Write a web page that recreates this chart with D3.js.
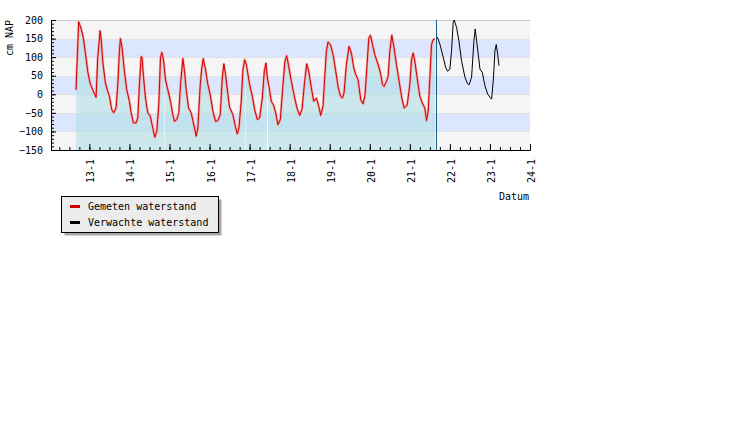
<!DOCTYPE html>
<html>
<head>
<meta charset="utf-8">
<script src="https://cdn.jsdelivr.net/npm/d3@7"></script>
<style>
	body { margin: 0; background: #fff; }
	text { font-family: 'DejaVu Sans Mono', monospace; font-size: 10px; fill: #000; }
</style>
</head>
<body>
<svg id="chart" width="734" height="434"></svg>
<script>
// gemeten waterstand (cm NAP)
let measured_times = [
	'12 16:00', '12 17:35', '12 19:00', '12 20:24', '12 22:00', '12 23:00', '13 00:25', '13 02:00', '13 04:00', '13 05:00',
	'13 06:25', '13 07:00', '13 08:00', '13 09:36', '13 11:00', '13 12:00', '13 13:23', '13 14:35', '13 16:00', '13 17:00',
	'13 18:00', '13 18:36', '13 19:37', '13 21:00', '13 22:23', '14 00:00', '14 01:00', '14 02:24', '14 04:00', '14 05:00',
	'14 06:00', '14 07:00', '14 07:35', '14 08:24', '14 09:36', '14 11:00', '14 12:25', '14 14:00', '14 15:11', '14 16:23',
	'14 17:35', '14 18:36', '14 19:23', '14 20:24', '14 21:36', '14 23:00', '15 00:36', '15 02:00', '15 03:00', '15 04:23',
	'15 05:35', '15 06:36', '15 08:00', '15 09:00', '15 10:00', '15 11:24', '15 13:00', '15 15:00', '15 16:00', '15 17:00',
	'15 18:25', '15 19:23', '15 20:13', '15 21:25', '15 23:00', '16 00:25', '16 02:00', '16 03:36', '16 05:00', '16 06:25',
	'16 07:37', '16 08:35', '16 09:36', '16 11:00', '16 12:00', '16 14:00', '16 15:25', '16 16:37', '16 17:35', '16 19:00',
	'16 20:00', '16 21:00', '16 22:00', '17 00:00', '17 01:37', '17 03:00', '17 04:37', '17 06:00', '17 07:37', '17 08:49',
	'17 09:47', '17 10:37', '17 11:35', '17 13:00', '17 14:24', '17 15:36', '17 17:00', '17 18:25', '17 20:00', '17 21:11',
	'17 22:12', '17 23:13', '18 01:00', '18 03:00', '18 04:23', '18 06:00', '18 07:23', '18 09:00', '18 10:12', '18 11:24',
	'18 12:00', '18 13:00', '18 14:24', '18 16:00', '18 17:24', '18 18:36', '18 20:00', '18 21:00', '18 22:00', '18 23:00',
	'19 00:25', '19 02:00', '19 03:36', '19 05:00', '19 06:25', '19 07:37', '19 08:35', '19 10:00', '19 11:35', '19 13:00',
	'19 14:24', '19 15:36', '19 17:00', '19 18:36', '19 20:00', '19 21:11', '19 22:23', '19 23:24', '20 00:25', '20 01:37',
	'20 03:00', '20 05:00', '20 06:25', '20 07:37', '20 08:35', '20 10:00', '20 11:00', '20 12:00', '20 13:12', '20 14:24',
	'20 16:00', '20 17:35', '20 19:12', '20 20:35', '20 22:23', '21 00:00', '21 01:00', '21 02:00', '21 03:00', '21 04:23',
	'21 06:00', '21 07:23', '21 09:00', '21 10:00', '21 11:00', '21 12:00', '21 13:00', '21 14:00', '21 15:00'
];
let measured_levels = [
	12, 195, 178, 151, 98, 62, 30, 12, -8, 98,
	171, 151, 89, 30, 8, -5, -41, -50, -37, 26,
	116, 150, 125, 62, 12, -19, -50, -77, -77, -64,
	26, 102, 98, 48, -10, -50, -58, -91, -116, -100,
	-28, 98, 113, 93, 39, 12, -19, -55, -73, -68,
	-50, 26, 96, 62, 12, -37, -50, -91, -113, -91,
	26, 71, 96, 71, 26, -1, -46, -73, -71, -55,
	44, 82, 53, -1, -35, -55, -86, -107, -91, -19,
	66, 93, 81, 26, -5, -41, -68, -64, -10, 62,
	84, 44, 21, -19, -30, -50, -82, -68, 26, 89,
	104, 81, 35, -10, -37, -57, -41, 35, 82, 62,
	44, 17, -19, -10, -32, -57, -32, 44, 116, 141,
	134, 107, 62, 21, -5, -10, 4, 80, 129, 111,
	71, 53, 39, -15, -26, -1, 80, 151, 159, 134,
	107, 80, 57, 26, 21, 35, 48, 116, 159, 129,
	80, 35, -10, -37, -30, 26, 93, 111, 89, 44,
	-5, -23, -37, -71, -46, 44, 134, 147, 149
];

// verwachte waterstand
let forecast_times = [
	'21 16:00', '21 16:37', '21 18:00', '21 20:00', '21 21:25', '21 22:37', '22 00:00', '22 01:00', '22 02:00', '22 02:35',
	'22 04:00', '22 05:24', '22 07:00', '22 09:00', '22 10:37', '22 11:35', '22 13:00', '22 14:24', '22 15:11', '22 16:00',
	'22 17:00', '22 18:00', '22 19:23', '22 21:00', '22 22:37', '23 00:00', '23 01:00', '23 02:00', '23 03:00', '23 03:47',
	'23 04:37', '23 05:24'
];
let forecast_levels = [
	149, 153, 135, 100, 73, 62, 68, 117, 194, 200,
	180, 144, 90, 46, 28, 26, 46, 144, 176, 144,
	108, 68, 59, 23, 1, -8, -13, 37, 117, 134,
	108, 77
];

let now_time = '21 15:36';
let gap_times = ['14 21:00', '16 21:00', '17 10:12'];
let x_extent = ['12 01:00', '24 00:00'];
let level_ticks = [-150, -100, -50, 0, 50, 100, 150, 200];
let day_ticks = ['13 00:00', '14 00:00', '15 00:00', '16 00:00', '17 00:00', '18 00:00',
	'19 00:00', '20 00:00', '21 00:00', '22 00:00', '23 00:00', '24 00:00'];
let day_labels = ['13-1', '14-1', '15-1', '16-1', '17-1', '18-1', '19-1', '20-1', '21-1', '22-1', '23-1', '24-1'];
let legend_labels = ['Gemeten waterstand', 'Verwachte waterstand'];
let legend_colors = ['#d00000', '#000000'];

let parse = d3.timeParse('%d %H:%M');
let plot = {left: 51, right: 530, top: 20, bottom: 150};

let x = d3.scaleTime()
	.domain(x_extent.map(parse))
	.range([plot.left, plot.right]);
let y = d3.scaleLinear()
	.domain([level_ticks[0], level_ticks[level_ticks.length - 1]])
	.range([plot.bottom, plot.top]);

let measured = measured_times.map((t, i) => ({t: parse(t), v: measured_levels[i]}));
let forecast = forecast_times.map((t, i) => ({t: parse(t), v: forecast_levels[i]}));

let svg = d3.select('#chart');

// alternating bands
let bands = svg.append('g').attr('class', 'bands');
for (let i = 0; i < level_ticks.length - 1; i++) {
	bands.append('rect')
		.attr('x', plot.left)
		.attr('y', y(level_ticks[i + 1]))
		.attr('width', plot.right - plot.left)
		.attr('height', y(level_ticks[i]) - y(level_ticks[i + 1]))
		.attr('fill', i % 2 == 0 ? '#f5f5f5' : '#dde6ff');
}
svg.append('g')
	.selectAll('line')
	.data(level_ticks)
	.enter()
	.append('line')
	.attr('x1', plot.left)
	.attr('x2', plot.right)
	.attr('y1', d => Math.round(y(d)) + 0.5)
	.attr('y2', d => Math.round(y(d)) + 0.5)
	.style('stroke', d => d == level_ticks[level_ticks.length - 1] ? '#c8c8c8' : '#e2e2e2');

// area under the measured levels
let area = d3.area()
	.x(d => x(d.t))
	.y0(y(level_ticks[0]))
	.y1(d => y(d.v));
svg.append('path')
	.attr('d', area(measured))
	.style('fill', 'powderblue')
	.style('fill-opacity', 0.6);

let bisect = d3.bisector(d => d.t).left;
function level_at(t) {
	let i = bisect(measured, t);
	let a = measured[i - 1], b = measured[i];
	return a.v + (b.v - a.v) * (t - a.t) / (b.t - a.t);
}
svg.append('g')
	.selectAll('line')
	.data(gap_times.map(parse))
	.enter()
	.append('line')
	.attr('x1', d => Math.round(x(d)) + 0.5)
	.attr('x2', d => Math.round(x(d)) + 0.5)
	.attr('y1', y(level_ticks[0]))
	.attr('y2', d => y(level_at(d)))
	.style('stroke', '#fff')
	.style('stroke-opacity', (d, i) => i == 2 ? 0.9 : 0.45);

let line = d3.line()
	.x(d => x(d.t))
	.y(d => y(d.v));

svg.append('path')
	.attr('d', line(measured))
	.style('fill', 'none')
	.style('stroke', '#f3a0a0')
	.style('stroke-width', 2.4)
	.style('stroke-linejoin', 'round');
svg.append('path')
	.attr('d', line(measured))
	.style('fill', 'none')
	.style('stroke', legend_colors[0])
	.style('stroke-width', 1);
svg.append('path')
	.attr('d', line(forecast))
	.style('fill', 'none')
	.style('stroke', legend_colors[1])
	.style('stroke-width', 1);

// now line
svg.append('line')
	.attr('x1', Math.round(x(parse(now_time))) + 0.5)
	.attr('x2', Math.round(x(parse(now_time))) + 0.5)
	.attr('y1', plot.top)
	.attr('y2', plot.bottom)
	.style('stroke', '#1d5d87');

// y axis
let minor_levels = d3.range(level_ticks[0], level_ticks[level_ticks.length - 1] + 1, 10);
svg.append('g')
	.attr('transform', `translate(${plot.left}, 0)`)
	.call(d3.axisLeft(y).tickValues(minor_levels).tickSize(-3).tickSizeOuter(0).tickFormat(''))
	.call(g => g.selectAll('line').style('stroke', '#000'));
let y_axis = svg.append('g')
	.attr('transform', `translate(${plot.left}, 0)`)
	.call(d3.axisLeft(y).tickValues(level_ticks).tickSize(-5).tickSizeOuter(0).tickPadding(8));
y_axis.selectAll('text').style('font-family', null).style('font-size', null);
y_axis.attr('font-family', null).attr('font-size', null);

// x axis
let minor_times = d3.timeHour.every(6).range(x.domain()[0], d3.timeHour.offset(x.domain()[1], 1));
svg.append('g')
	.attr('transform', `translate(0, ${plot.bottom})`)
	.call(d3.axisBottom(x).tickValues(minor_times).tickSize(-3).tickSizeOuter(0).tickFormat(''));
let x_axis = svg.append('g')
	.attr('transform', `translate(0, ${plot.bottom})`)
	.call(d3.axisBottom(x).tickValues(day_ticks.map(parse)).tickSize(-6).tickSizeOuter(0)
		.tickFormat((d, i) => day_labels[i]));
x_axis.attr('font-family', null).attr('font-size', null);
x_axis.selectAll('text')
	.attr('transform', 'rotate(-90)')
	.attr('text-anchor', 'end')
	.attr('x', -9)
	.attr('y', 1)
	.attr('dy', '0.35em');

svg.append('text')
	.attr('transform', 'translate(13, 38) rotate(-90)')
	.attr('text-anchor', 'middle')
	.text('cm NAP');
svg.append('text')
	.attr('x', plot.right - 1)
	.attr('y', 200)
	.attr('text-anchor', 'end')
	.text('Datum');

// legend
let legend = svg.append('g').attr('transform', 'translate(61, 196)');
legend.append('rect')
	.attr('x', 3.5).attr('y', 3.5)
	.attr('width', 157).attr('height', 36)
	.style('fill', '#a8a8a8');
legend.append('rect')
	.attr('x', 0.5).attr('y', 0.5)
	.attr('width', 157).attr('height', 36)
	.style('fill', '#ececec')
	.style('stroke', '#000');
legend_labels.forEach((label, i) => {
	legend.append('line')
		.attr('x1', 9).attr('x2', 19)
		.attr('y1', 10.5 + i * 16).attr('y2', 10.5 + i * 16)
		.style('stroke', legend_colors[i])
		.style('stroke-width', 3);
	legend.append('text')
		.attr('x', 27)
		.attr('y', 14 + i * 16)
		.text(label);
});
</script>
</body>
</html>
